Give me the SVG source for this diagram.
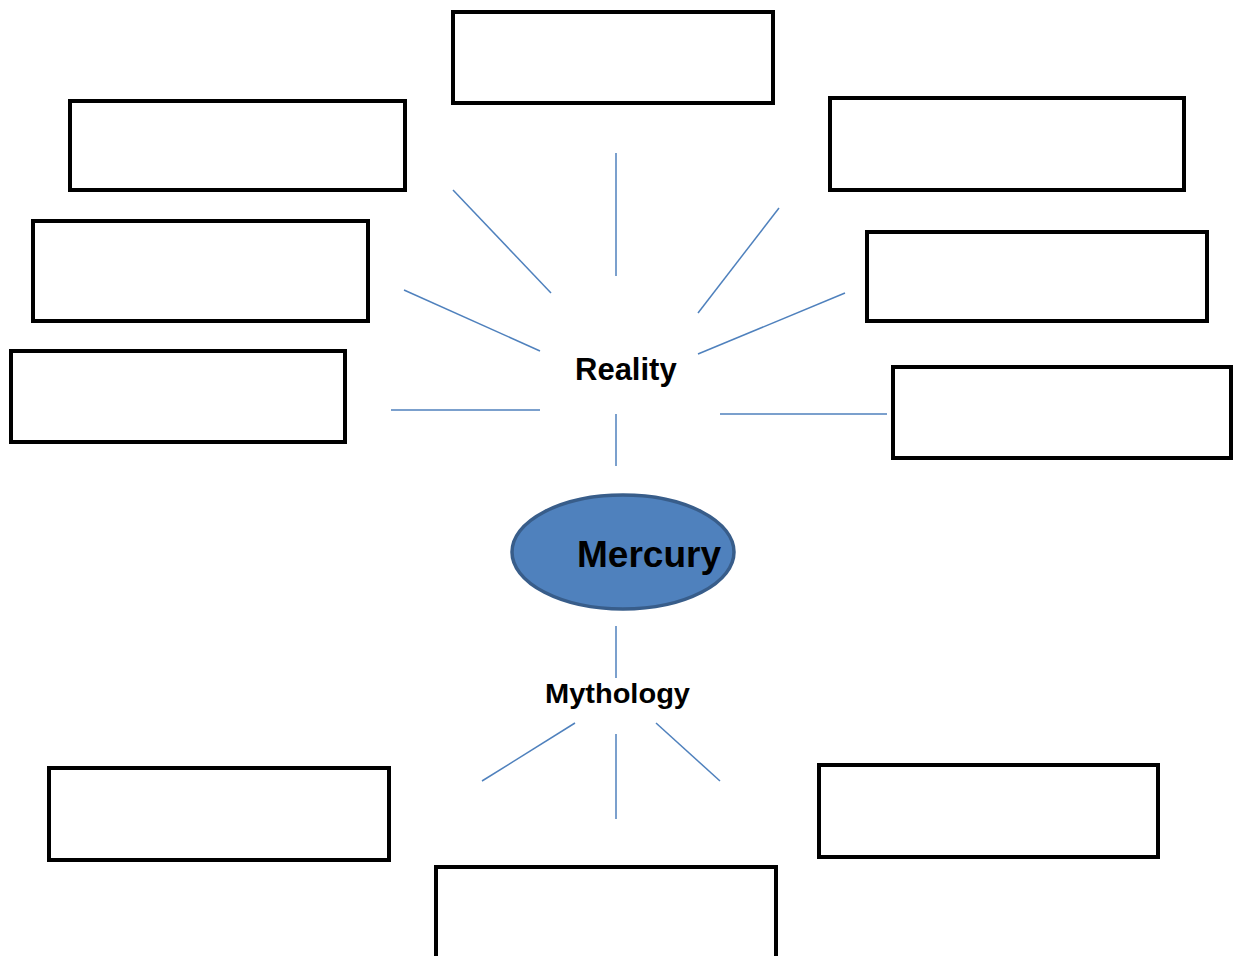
<svg xmlns="http://www.w3.org/2000/svg" width="1233" height="956" viewBox="0 0 1233 956">
<style>
.box{fill:#fff;stroke:#000;stroke-width:4}
.c{stroke:#4F81BD;stroke-width:1.5;fill:none}
.t{font-family:"Liberation Sans",Arial,sans-serif;font-weight:bold;fill:#000}
</style>
<rect width="1233" height="956" fill="#fff"/>
<g id="connectors">
<line class="c" x1="616" y1="153" x2="616" y2="276"/>
<line class="c" x1="453" y1="190" x2="551" y2="293"/>
<line class="c" x1="779" y1="208" x2="698" y2="313"/>
<line class="c" x1="404" y1="290" x2="540" y2="351"/>
<line class="c" x1="845" y1="293" x2="698" y2="354"/>
<line class="c" x1="391" y1="410" x2="540" y2="410"/>
<line class="c" x1="720" y1="414" x2="887" y2="414"/>
<line class="c" x1="616" y1="414" x2="616" y2="466"/>
<line class="c" x1="616" y1="626" x2="616" y2="678"/>
<line class="c" x1="575" y1="723" x2="482" y2="781"/>
<line class="c" x1="616" y1="734" x2="616" y2="819"/>
<line class="c" x1="656" y1="723" x2="720" y2="781"/>
</g>
<g id="box-top"><rect class="box" x="453" y="12" width="320" height="91"/></g>
<g id="box-left1"><rect class="box" x="70" y="101" width="335" height="89"/></g>
<g id="box-left2"><rect class="box" x="33" y="221" width="335" height="100"/></g>
<g id="box-left3"><rect class="box" x="11" y="351" width="334" height="91"/></g>
<g id="box-right1"><rect class="box" x="830" y="98" width="354" height="92"/></g>
<g id="box-right2"><rect class="box" x="867" y="232" width="340" height="89"/></g>
<g id="box-right3"><rect class="box" x="893" y="367" width="338" height="91"/></g>
<g id="box-bottom-left"><rect class="box" x="49" y="768" width="340" height="92"/></g>
<g id="box-bottom-right"><rect class="box" x="819" y="765" width="339" height="92"/></g>
<g id="box-bottom"><rect class="box" x="436" y="867" width="340" height="100"/></g>
<g id="reality"><text class="t" x="575" y="380" font-size="31">Reality</text></g>
<g id="mythology"><text class="t" x="545" y="703" font-size="27" textLength="145" lengthAdjust="spacingAndGlyphs">Mythology</text></g>
<g id="mercury">
<ellipse cx="623" cy="552" rx="111" ry="57" fill="#4F81BD" stroke="#385D8A" stroke-width="3.5"/>
<text class="t" x="577" y="567" font-size="37">Mercury</text>
</g>
</svg>
